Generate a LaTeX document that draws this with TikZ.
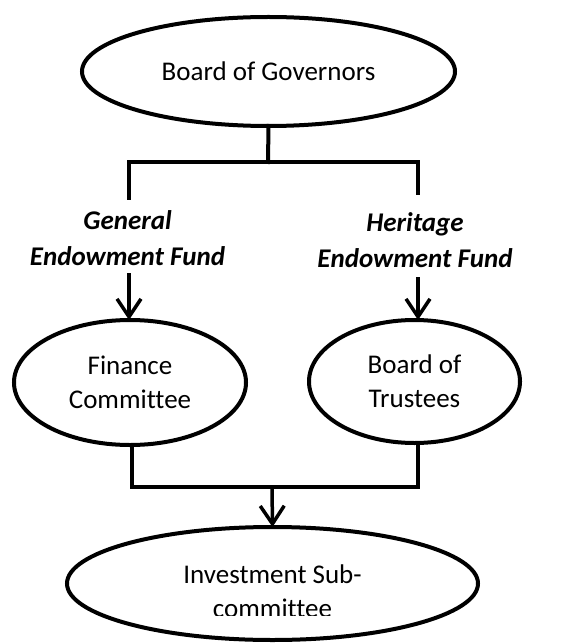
\documentclass[tikz,border=0pt]{standalone}
\usepackage{fontspec}
\setmainfont{Carlito}[Ligatures=NoCommon]
\usetikzlibrary{shapes.geometric,arrows.meta}
\tikzset{
  ell/.style={draw, ellipse, line width=4pt, inner sep=0pt, outer sep=0pt, align=center,
    font=\fontsize{27}{34}\selectfont},
  conn/.style={line width=4pt, line cap=rect},
  arr/.style={line width=3.5pt, -{Straight Barb[length=18pt,width=24pt,line width=3.5pt]}},
  lbl/.style={align=center, font=\fontsize{27}{36}\selectfont\bfseries\itshape, inner sep=0pt}
}
\begin{document}
\begin{tikzpicture}[x=1pt,y=-1pt]
\useasboundingbox (0,0) rectangle (569,644);
\node[ell, minimum width=373pt, minimum height=109pt] (gov) at (268.5,71.5) {Board of Governors};
\node[ell, minimum width=232pt, minimum height=125pt] (fin) at (130,382.5) {Finance\\Committee};
\node[ell, minimum width=211pt, minimum height=123pt] (bt) at (414.5,381.5) {Board of\\Trustees};
\node[ell, minimum width=411pt, minimum height=113pt] (inv) at (272.5,583.5) {};
\begin{scope}
\clip (0,0) rectangle (569,615);
\node[align=center, font=\fontsize{27}{34}\selectfont, inner sep=0pt, anchor=base] (invtxt) at (272.5,617) {Investment Sub-\\committee};
\end{scope}
\node[lbl] (gef) at (127.5,238) {General\\Endowment Fund};
\node[lbl] (hef) at (415,240) {Heritage\\Endowment Fund};
\coordinate (split) at (268,162);
\coordinate (lend) at (129,198);
\coordinate (rend) at (418,193);
\draw[conn] (gov.south) -- (split);
\draw[conn] (lend) |- (split) -| (rend);
\coordinate (la) at (129,273);
\coordinate (ra) at (418,277);
\draw[arr] (la) -- (la |- fin.north);
\draw[arr] (ra) -- (ra |- bt.north);
\coordinate (merge) at (272,487);
\draw[conn] (fin.south -| 132,0) |- (merge) -| (bt.south -| 418,0);
\draw[arr] (merge) -- (inv.north);
\end{tikzpicture}
\end{document}
